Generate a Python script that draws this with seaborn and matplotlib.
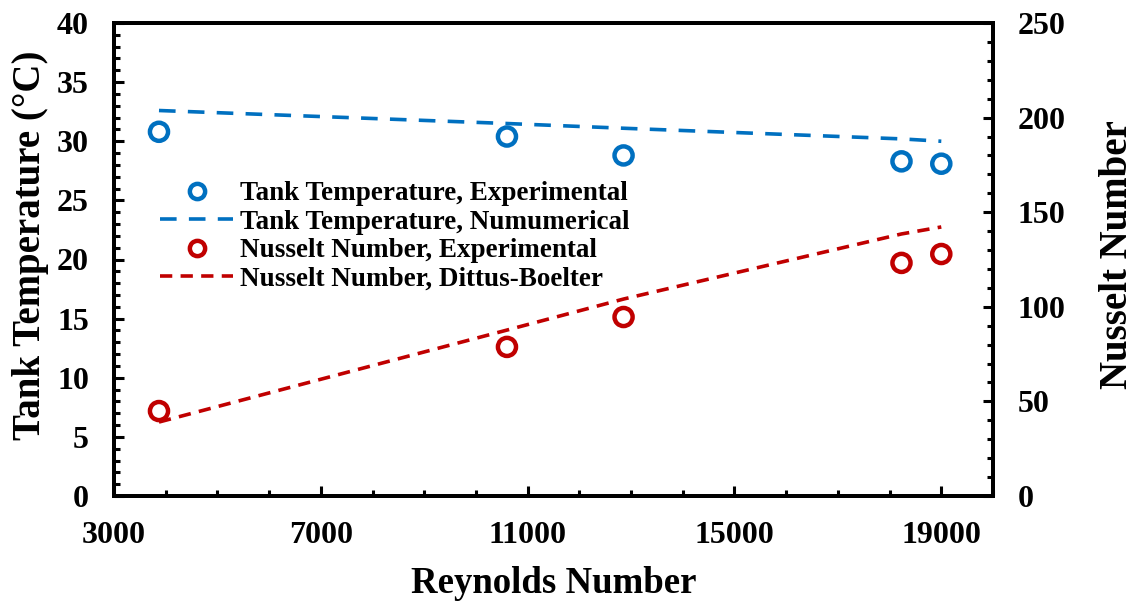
import pandas as pd
import matplotlib.pyplot as plt
import seaborn as sns
from matplotlib.ticker import MultipleLocator
from matplotlib.lines import Line2D

re_vals = [3870, 10600, 12855, 18230, 19000]
temp_exp = [30.8, 30.4, 28.8, 28.3, 28.1]
temp_num = [32.6, 31.5, 31.1, 30.2, 30.0]
nu_exp = [44.9, 78.8, 94.6, 123.2, 127.9]
nu_db = [39.1, 87.7, 104.1, 138.5, 142.2]
x_ticks = [3000, 7000, 11000, 15000, 19000]

df = pd.DataFrame({'Re': re_vals, 'T_exp': temp_exp, 'T_num': temp_num,
                   'Nu_exp': nu_exp, 'Nu_db': nu_db})

blue = '#0070C0'
red = '#C00000'

sns.set_theme(style='ticks')
plt.rcParams['font.family'] = ['Liberation Serif', 'DejaVu Serif']
plt.rcParams['font.weight'] = 'bold'
plt.rcParams['axes.labelweight'] = 'bold'
plt.rcParams['text.color'] = 'black'
plt.rcParams['axes.labelcolor'] = 'black'
plt.rcParams['xtick.color'] = 'black'
plt.rcParams['ytick.color'] = 'black'

fig, ax = plt.subplots(figsize=(11.35, 6.03), dpi=100)
fig.subplots_adjust(left=114/1135, right=993/1135, top=1-23/603, bottom=1-496/603)
ax2 = ax.twinx()

blue_dash = (4.6, 3.4)
red_dash = (3.4, 2.3)

mk = dict(marker='o', s=170, facecolor='none', linewidth=3.2)
sns.scatterplot(data=df, x='Re', y='T_exp', ax=ax, edgecolor=blue, **mk)
sns.lineplot(data=df, x='Re', y='T_num', ax=ax, color=blue, linewidth=2.6)
ax.lines[-1].set_dashes(blue_dash)
sns.scatterplot(data=df, x='Re', y='Nu_exp', ax=ax2, edgecolor=red, **mk)
sns.lineplot(data=df, x='Re', y='Nu_db', ax=ax2, color=red, linewidth=2.6)
ax2.lines[-1].set_dashes(red_dash)

ax.set_xlim(3000, 20000)
ax.set_ylim(0, 40)
ax2.set_ylim(0, 250)
ax.set_xticks(x_ticks)
ax.xaxis.set_minor_locator(MultipleLocator(1000))
ax.yaxis.set_major_locator(MultipleLocator(5))
ax.yaxis.set_minor_locator(MultipleLocator(1))
ax2.yaxis.set_major_locator(MultipleLocator(50))
ax2.yaxis.set_minor_locator(MultipleLocator(10))

for a in (ax, ax2):
    for s in a.spines.values():
        s.set_linewidth(2.8)
        s.set_color('black')
    a.tick_params(which='major', direction='in', length=7, width=2.2, labelsize=23, pad=18)
    a.tick_params(which='minor', direction='in', length=4.5, width=2.2)
ax.tick_params(axis='x', which='both', top=False)

ax.set_xlabel('Reynolds Number', fontsize=26.5, fontweight='bold')
ax.set_ylabel('Tank Temperature (°C)', fontsize=28, fontweight='bold')
ax2.set_ylabel('Nusselt Number', fontsize=28, fontweight='bold', rotation=90)
ax.xaxis.set_label_coords(0.5, -0.148)
ax.yaxis.set_label_coords(-0.074, 0.53)
ax2.yaxis.set_label_coords(1.121, 0.51)

handles = [
    Line2D([], [], marker='o', linestyle='none', markersize=11, markerfacecolor='none',
           markeredgecolor=blue, markeredgewidth=3.2),
    Line2D([], [], color=blue, linewidth=2.6, dashes=blue_dash),
    Line2D([], [], marker='o', linestyle='none', markersize=11, markerfacecolor='none',
           markeredgecolor=red, markeredgewidth=3.2),
    Line2D([], [], color=red, linewidth=2.6, dashes=red_dash),
]
labels = ['Tank Temperature, Experimental', 'Tank Temperature, Numumerical',
          'Nusselt Number, Experimental', 'Nusselt Number, Dittus-Boelter']
fig.legend(handles, labels, loc='upper left', bbox_to_anchor=(160/1135, 1-181/603),
           frameon=False, fontsize=19.5, labelspacing=0.13, handlelength=2.7,
           handletextpad=0.25, borderpad=0, borderaxespad=0)

fig.savefig('out.png', dpi=100)
